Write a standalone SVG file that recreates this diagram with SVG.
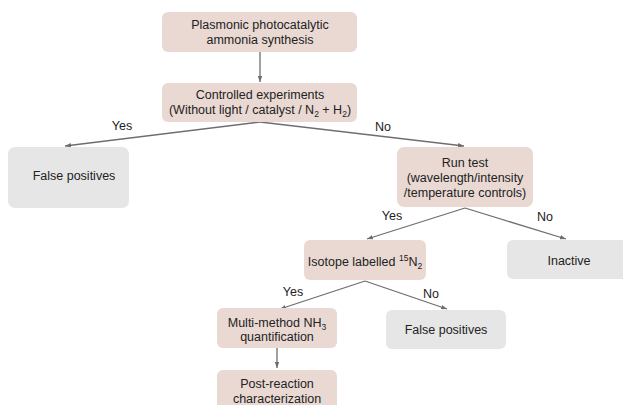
<svg xmlns="http://www.w3.org/2000/svg" width="623" height="405" viewBox="0 0 623 405">
<style>
.pk{fill:#ead9d3}
.gy{fill:#e6e6e6}
text{font-family:"Liberation Sans",Arial,sans-serif;font-size:12.5px;fill:#222;text-anchor:middle}
.sub{font-size:8.5px}
.conn line{stroke:#6e6e6e;stroke-width:1.3;marker-end:url(#ah)}
</style>
<defs>
<marker id="ah" viewBox="0 0 8 6" refX="8" refY="3" markerWidth="6" markerHeight="4.5" markerUnits="userSpaceOnUse" orient="auto">
<path d="M0,0 L8,3 L0,6 Z" fill="#6e6e6e"/>
</marker>
</defs>
<rect width="623" height="405" fill="#ffffff"/>
<g id="connectors" class="conn">
<line x1="260" y1="52" x2="260" y2="82"/>
<line x1="260" y1="122" x2="65" y2="146"/>
<line x1="260" y1="122" x2="464" y2="146"/>
<line x1="465" y1="208" x2="367" y2="239"/>
<line x1="465" y1="208" x2="566" y2="239"/>
<line x1="365" y1="281" x2="280" y2="309"/>
<line x1="365" y1="281" x2="447" y2="309"/>
<line x1="277" y1="348" x2="277" y2="368"/>
</g>
<g id="labels">
<text x="122" y="129.5">Yes</text>
<text x="383" y="130.5">No</text>
<text x="392" y="220">Yes</text>
<text x="545" y="221">No</text>
<text x="293" y="295.5">Yes</text>
<text x="431" y="297.5">No</text>
</g>
<g id="n1">
<rect class="pk" x="162" y="12" width="195" height="40" rx="6"/>
<text x="260" y="28.5">Plasmonic photocatalytic</text>
<text x="260" y="43.5">ammonia synthesis</text>
</g>
<g id="n2">
<rect class="pk" x="162" y="83" width="195" height="39" rx="6"/>
<text x="260" y="98.5">Controlled experiments</text>
<text x="260" y="114">(Without light / catalyst / N<tspan class="sub" dy="3">2</tspan><tspan dy="-3"> + H</tspan><tspan class="sub" dy="3">2</tspan><tspan dy="-3">)</tspan></text>
</g>
<g id="n3">
<rect class="gy" x="8" y="147" width="121" height="61" rx="7"/>
<text x="74" y="179.5">False positives</text>
</g>
<g id="n4">
<rect class="pk" x="397" y="147" width="136" height="60" rx="7"/>
<text x="465" y="166.5">Run test</text>
<text x="465" y="181.5">(wavelength/intensity</text>
<text x="465" y="196.5">/temperature controls)</text>
</g>
<g id="n5">
<rect class="pk" x="304" y="240" width="122" height="40" rx="6"/>
<text x="365" y="265.5">Isotope labelled <tspan class="sub" dy="-5">15</tspan><tspan dy="5">N</tspan><tspan class="sub" dy="3">2</tspan></text>
</g>
<g id="n6">
<rect class="gy" x="507" y="240" width="125" height="39" rx="6"/>
<text x="569" y="264.5">Inactive</text>
</g>
<g id="n7">
<rect class="pk" x="217" y="308" width="120" height="40" rx="6"/>
<text x="277" y="326.5">Multi-method NH<tspan class="sub" dy="3">3</tspan></text>
<text x="277" y="340.5">quantification</text>
</g>
<g id="n8">
<rect class="gy" x="386" y="310" width="120" height="39" rx="6"/>
<text x="446" y="333.5">False positives</text>
</g>
<g id="n9">
<rect class="pk" x="217" y="370" width="120" height="45" rx="6"/>
<text x="277" y="387.5">Post-reaction</text>
<text x="277" y="402.5">characterization</text>
</g>
</svg>
